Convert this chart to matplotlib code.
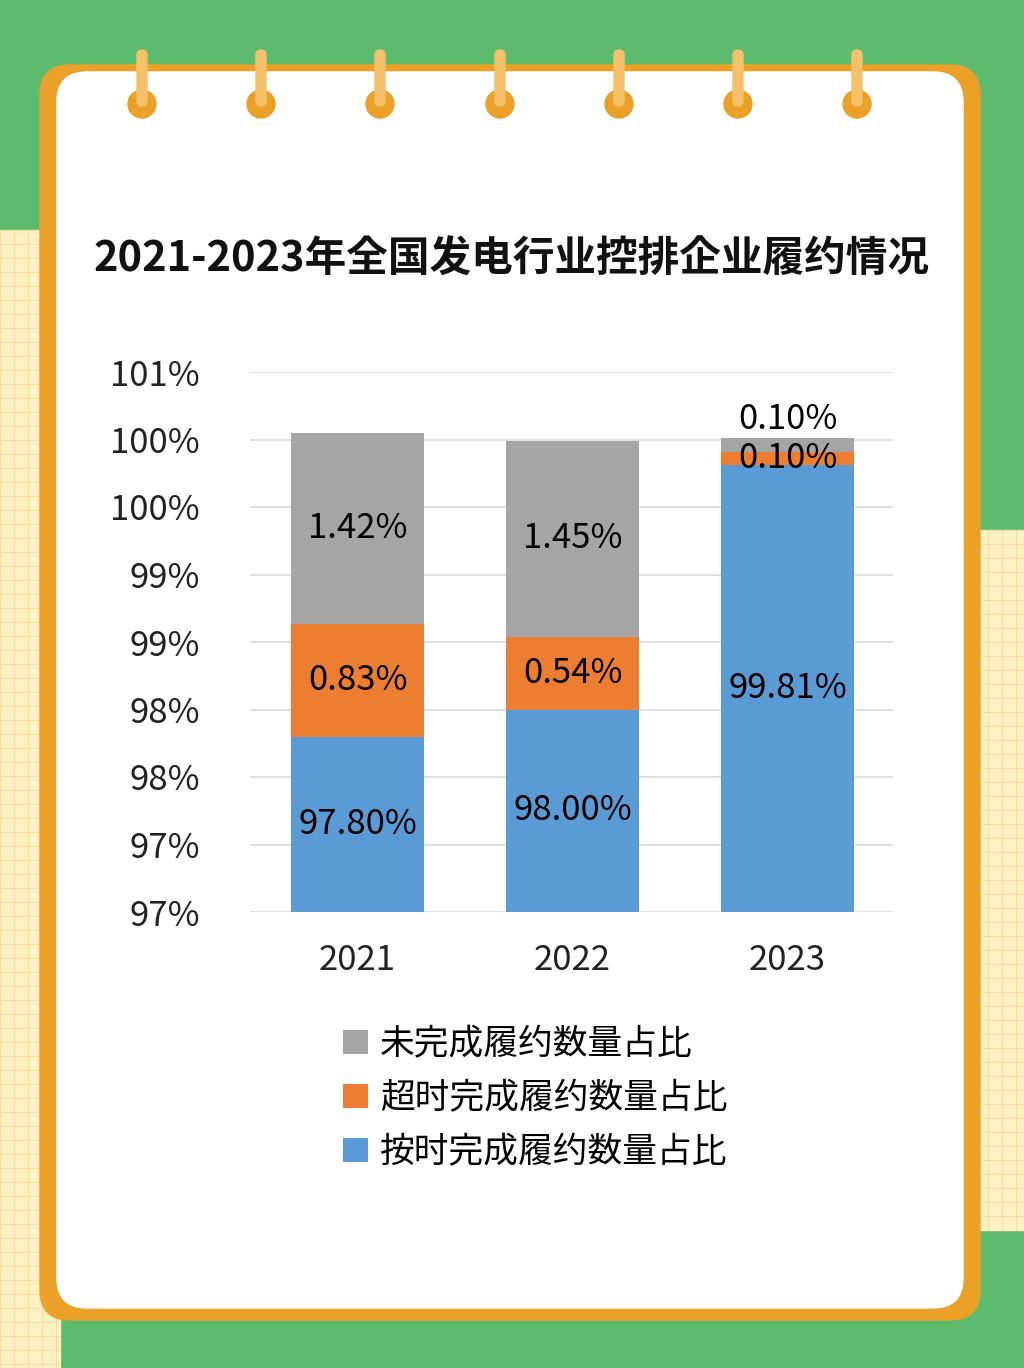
import matplotlib.pyplot as plt
from matplotlib import font_manager
from matplotlib.patches import FancyBboxPatch, Rectangle, Circle
import numpy as np

# pick a sans CJK font
cjk = sorted({f.name for f in font_manager.fontManager.ttflist if 'CJK' in f.name})
sans_cjk = [n for n in cjk if 'Sans' in n]
if 'Noto Sans CJK SC' in cjk:
    cjk_name = 'Noto Sans CJK SC'
elif sans_cjk:
    cjk_name = sans_cjk[0]
else:
    cjk_name = cjk[0] if cjk else 'DejaVu Sans'
plt.rcParams['font.family'] = 'sans-serif'
plt.rcParams['font.sans-serif'] = [cjk_name, 'DejaVu Sans']

years = ['2021', '2022', '2023']
on_time = [97.80, 98.00, 99.81]
late = [0.83, 0.54, 0.10]
unfinished = [1.42, 1.45, 0.10]
tick_vals = [96.5, 97.0, 97.5, 98.0, 98.5, 99.0, 99.5, 100.0, 100.5]
tick_labels = ['97%', '97%', '98%', '98%', '99%', '99%', '100%', '100%', '101%']

fig = plt.figure(figsize=(10.24, 13.68), dpi=100)
fig.patch.set_facecolor('#5dbb6e')

# decorative background in pixel coordinates
bg = fig.add_axes([0, 0, 1, 1])
bg.set_xlim(0, 1024)
bg.set_ylim(1368, 0)
bg.axis('off')
for x0, x1, y0, y1 in [(0, 60, 230, 1368), (960, 1024, 530, 1230)]:
    bg.add_patch(Rectangle((x0, y0), x1 - x0, y1 - y0, color='#fdf1c4', zorder=0))
    for gx in np.arange(x0, x1, 14):
        bg.plot([gx, gx], [y0, y1], color='#f2dc9a', lw=0.6, zorder=0)
    for gy in np.arange(y0, y1, 14):
        bg.plot([x0, x1], [gy, gy], color='#f2dc9a', lw=0.6, zorder=0)
bg.add_patch(FancyBboxPatch((40, 65), 940, 1255, boxstyle='round,pad=0,rounding_size=30',
                            color='#eba127', zorder=1))
bg.add_patch(FancyBboxPatch((57, 72), 906, 1236, boxstyle='round,pad=0,rounding_size=30',
                            color='white', zorder=2))
for rx in [142, 261, 380, 500, 619, 738, 857]:
    bg.add_patch(Circle((rx, 104), 14, color='#eba127', zorder=3))
    bg.add_patch(FancyBboxPatch((rx - 5, 50), 10, 56, boxstyle='round,pad=0,rounding_size=5',
                                color='#f4c06a', zorder=4))

fig.text(0.5, 1 - 260 / 1368, '2021-2023年全国发电行业控排企业履约情况', ha='center', va='center',
         fontsize=30, fontweight='bold', color='#111111')

ax = fig.add_axes([250 / 1024, 1 - 912 / 1368, 643 / 1024, 540 / 1368])
ax.set_facecolor('white')
x = np.arange(len(years))
w = 0.62
b1 = ax.bar(x, on_time, w, color='#5b9bd5', label='按时完成履约数量占比', zorder=3)
b2 = ax.bar(x, late, w, bottom=on_time, color='#ed7d31', label='超时完成履约数量占比', zorder=3)
bottom3 = [a + b for a, b in zip(on_time, late)]
b3 = ax.bar(x, unfinished, w, bottom=bottom3, color='#a5a5a5', label='未完成履约数量占比', zorder=3)
ax.set_ylim(96.5, 100.5)
ax.set_xlim(-0.5, 2.49)
ax.set_yticks(tick_vals)
ax.set_yticklabels(tick_labels)
ax.set_xticks(x)
ax.set_xticklabels(years)
ax.tick_params(axis='both', length=0, labelsize=25, colors='#222222')
ax.tick_params(axis='y', pad=36)
ax.tick_params(axis='x', pad=22)
ax.grid(axis='y', color='#d9d9d9', lw=1.2, zorder=0)
for s in ax.spines.values():
    s.set_visible(False)

fs = 25
for i in range(3):
    ax.text(x[i], 96.5 + (on_time[i] - 96.5) / 2, f'{on_time[i]:.2f}%', ha='center', va='center', fontsize=fs)
    if i < 2:
        ax.text(x[i], on_time[i] + late[i] / 2, f'{late[i]:.2f}%', ha='center', va='center', fontsize=fs)
        ax.text(x[i], bottom3[i] + unfinished[i] / 2, f'{unfinished[i]:.2f}%', ha='center', va='center', fontsize=fs)
    else:
        ax.text(x[i], on_time[i] + 0.05, f'{late[i]:.2f}%', ha='center', va='center', fontsize=fs)
        ax.text(x[i], bottom3[i] + 0.24, f'{unfinished[i]:.2f}%', ha='center', va='center', fontsize=fs)

handles = [b3, b2, b1]
leg = fig.legend(handles, [h.get_label() for h in handles], loc='upper left',
                 bbox_to_anchor=(312 / 1024, 1 - 996 / 1368), frameon=False, fontsize=25,
                 handlelength=0.7, handleheight=0.7, handletextpad=0.35, labelspacing=0.55)

fig.savefig('out.png', dpi=100, facecolor=fig.get_facecolor())
